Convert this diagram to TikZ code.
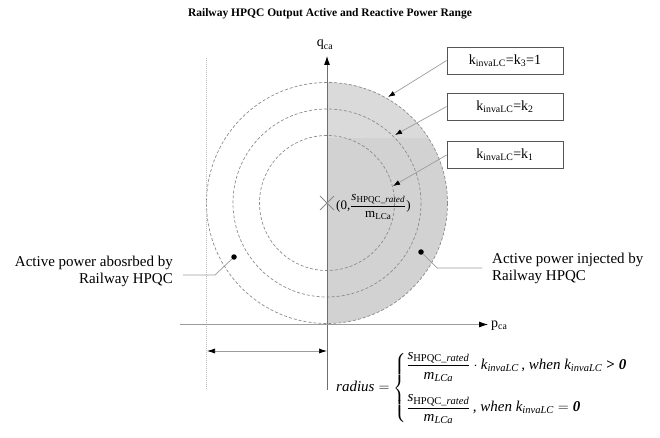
\documentclass[tikz,border=0pt]{standalone}
\usepackage{amsmath}
\usepackage{fontspec}
\setmainfont{Liberation Serif}
\usetikzlibrary{arrows.meta,calc}

\definecolor{shadelo}{HTML}{D2D2D2}
\definecolor{shadehi}{HTML}{DADADA}
\definecolor{axisgrey}{HTML}{6E6E6E}
\definecolor{leadgrey}{HTML}{9C9C9C}
\definecolor{ringgrey}{HTML}{8C8C8C}
\definecolor{boxgrey}{HTML}{555555}

\tikzset{
  ring/.style={draw=ringgrey, line width=0.7pt, dash pattern=on 3pt off 2pt},
  axisline/.style={draw=axisgrey, line width=0.8pt},
  leader/.style={draw=leadgrey, line width=0.7pt},
  tipk/.style={-{Latex[length=7pt,width=5pt,color=black]}},
  kbox/.style={draw=boxgrey, line width=0.8pt, minimum width=116pt, minimum height=27pt,
               inner sep=0pt, font=\fontsize{14}{16}\selectfont},
  dotmark/.style={circle, fill=black, inner sep=0pt, minimum size=5.5pt},
  sidetext/.style={font=\fontsize{15}{17}\selectfont, inner sep=0pt},
}

\begin{document}
\begin{tikzpicture}[x=1pt, y=-1pt]
\useasboundingbox (0,0) rectangle (660,438);

% title
\node[font=\bfseries\fontsize{11.5}{14}\selectfont] (title) at (330,14)
  {Railway HPQC Output Active and Reactive Power Range};

% operating centre
\coordinate (c) at (327,203);

% shaded right half of the outer circle (two tones)
\begin{scope}
  \clip (327,60) rectangle (460,330);
  \clip (c) circle[radius=120.5];
  \fill[shadelo] (327,60) rectangle (460,330);
  \fill[shadehi] (327,60) rectangle (460,138);
\end{scope}

% radius circles
\draw[ring] (c) circle[radius=120.5];
\draw[ring] (c) circle[radius=94];
\draw[ring] (c) circle[radius=67.5];

% left dotted limit
\coordinate (dtop) at (206.5,58);
\coordinate (dbot) at (206.5,390);
\draw[draw=ringgrey!60, line width=0.6pt, dash pattern=on 1pt off 1pt] (dtop) -- (dbot);

% axes
\coordinate (qbot) at (327,390);
\coordinate (qtop) at (327,56);
\coordinate (pleft) at (180,324.5);
\coordinate (pright) at (488,324.5);
\draw[axisline, -{Latex[length=9pt,width=6pt,color=black]}] (qbot) -- (qtop);
\draw[draw=leadgrey, line width=0.8pt, -{Latex[length=9pt,width=6pt,color=black]}] (pleft) -- (pright);
\node[font=\fontsize{14}{16}\selectfont, inner sep=0pt] (qlab) at (325,45) {q\textsubscript{ca}};
\node[font=\fontsize{14}{16}\selectfont, inner sep=0pt, anchor=west] (plab) at (491,326) {p\textsubscript{ca}};

% radius dimension
\coordinate (ra) at (207,351);
\coordinate (rb) at (327,351);
\draw[leader, {Latex[length=8pt,width=5pt,color=black]}-{Latex[length=8pt,width=5pt,color=black]}] (ra) -- (rb);

% centre cross and label
\draw[draw=ringgrey, line width=0.8pt] ($(c)+(-7,-7)$) -- ($(c)+(7,7)$);
\draw[draw=ringgrey, line width=0.8pt] ($(c)+(-7,7)$) -- ($(c)+(7,-7)$);
\node[anchor=west, inner sep=0pt, font=\fontsize{13}{15}\selectfont] (clab) at (336,207)
  {(0,$\dfrac{\textit{s}_{\text{HPQC\_}\textit{rated}}}{\text{m}_{\text{LCa}}}$)};

% k boxes with leaders
\node[kbox] (k3) at (505,60.5) {k\textsubscript{invaLC}=k\textsubscript{3}=1};
\node[kbox] (k2) at (505,106.5) {k\textsubscript{invaLC}=k\textsubscript{2}};
\node[kbox] (k1) at (505,155) {k\textsubscript{invaLC}=k\textsubscript{1}};
\coordinate (t3) at (388,97);
\coordinate (t2) at (395,135);
\coordinate (t1) at (393,186);
\draw[leader, tipk] (k3.west) -- (t3);
\draw[leader, tipk] (k2.west) -- (t2);
\draw[leader, tipk] (k1.west) -- (t1);

% absorbed / injected annotations
\node[dotmark] (bl) at (234,257) {};
\node[dotmark] (br) at (421,252) {};
\node[sidetext, anchor=east, align=right] (absorb) at (173,271.5)
  {Active power abosrbed by\\Railway HPQC};
\node[sidetext, anchor=west, align=left] (inject) at (492,268)
  {Active power injected by\\Railway HPQC};
\coordinate (blk) at (215,275);
\coordinate (blend) at (183,275);
\coordinate (brk) at (437,268);
\coordinate (brend) at (482,268);
\draw[leader] (bl) -- (blk) -- (blend);
\draw[leader] (br) -- (brk) -- (brend);

% radius formula
\node[anchor=west, inner sep=0pt, font=\fontsize{15}{18}\selectfont] (formula) at (336,388)
  {$\textit{radius} = \left\{\begin{array}{@{}l@{}}
    \dfrac{\textit{s}_{\text{HPQC\_}\textit{rated}}}{\textit{m}_{\textit{LCa}}}\cdot \textit{k}_{\textit{invaLC}}\,\textit{, when }\textit{k}_{\textit{invaLC}} \mathrel{\text{\bfseries >}} \text{\bfseries\itshape 0}\\[20pt]
    \dfrac{\textit{s}_{\text{HPQC\_}\textit{rated}}}{\textit{m}_{\textit{LCa}}}\,\textit{, when }\textit{k}_{\textit{invaLC}} = \text{\bfseries\itshape 0}
  \end{array}\right.$};
\end{tikzpicture}
\end{document}
